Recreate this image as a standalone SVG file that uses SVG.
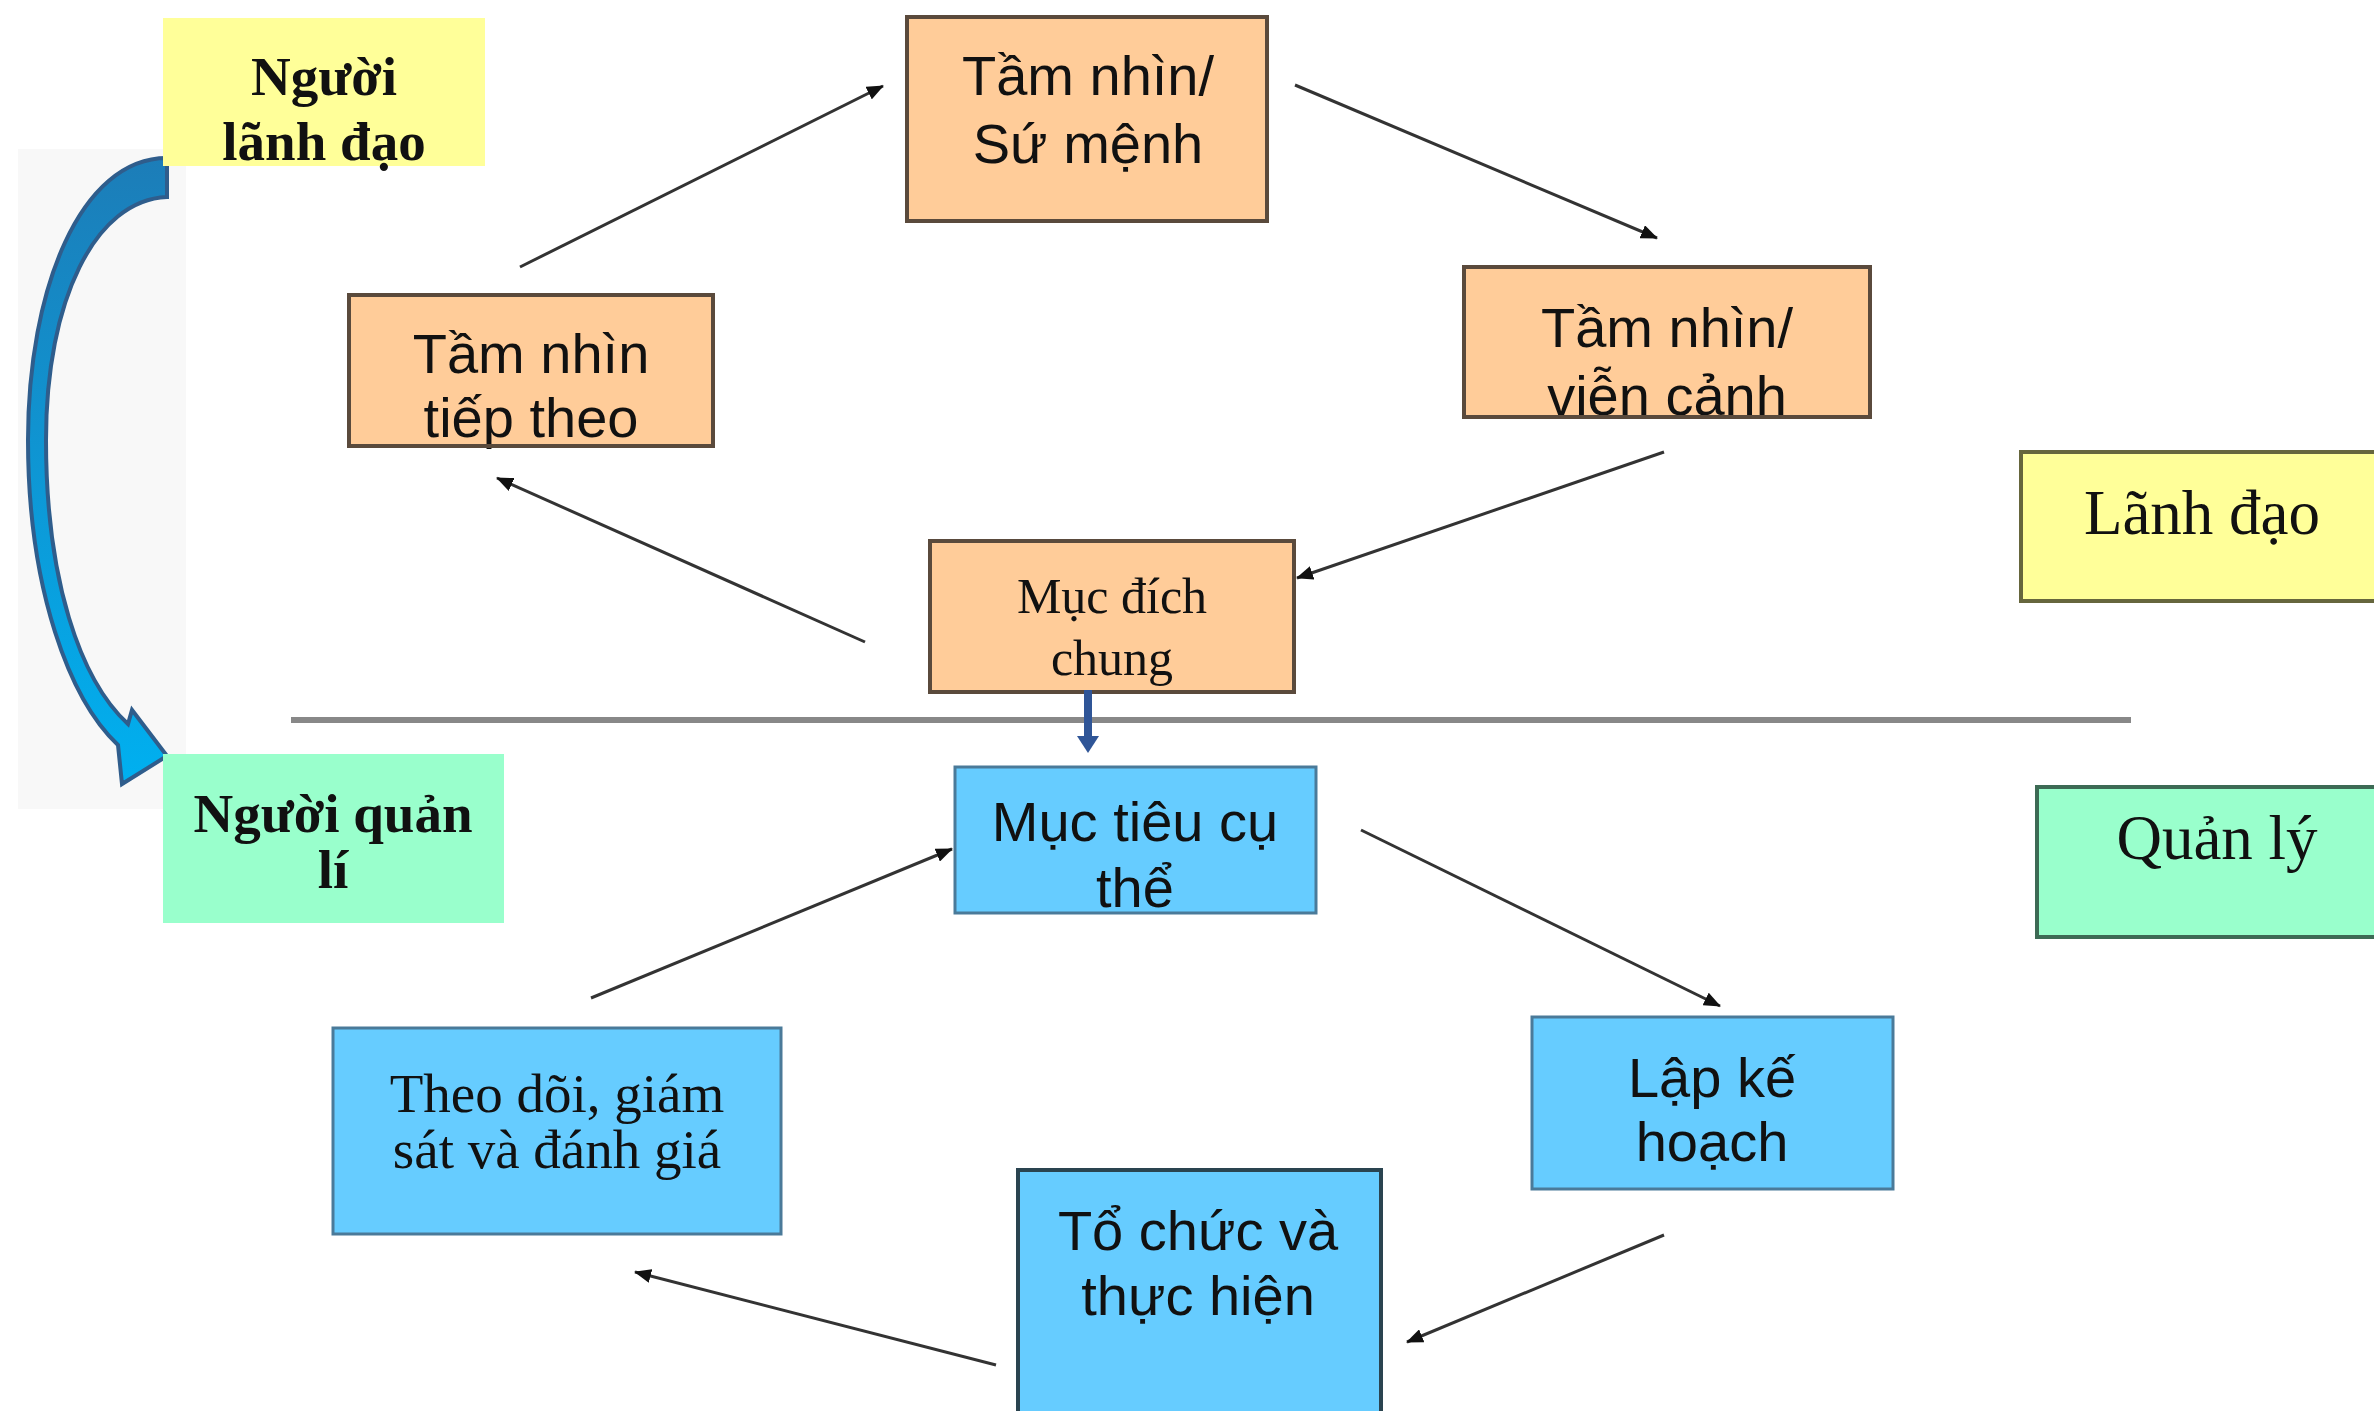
<svg xmlns="http://www.w3.org/2000/svg" width="2374" height="1411" viewBox="0 0 2374 1411">
<defs>
<style>
.sans{font-family:"Liberation Sans",Arial,sans-serif;font-size:56px;fill:#111;text-anchor:middle}
.serif{font-family:"Liberation Serif","Times New Roman",serif;fill:#111;text-anchor:middle}
.bold{font-weight:bold;font-size:55px}
.peach{fill:#FFCC99;stroke:#5a4a3c;stroke-width:4}
.peachfill{fill:#FFCC99}
.peachline{fill:none;stroke:#5a4a3c;stroke-width:4}
.blue{fill:#66CCFF;stroke:#4a7a99;stroke-width:3}
.bluefill{fill:#66CCFF}
.blueline{fill:none;stroke:#4a7a99;stroke-width:3}
.conn{stroke:#333;stroke-width:3;fill:none;marker-end:url(#ah)}
</style>
<marker id="ah" markerUnits="userSpaceOnUse" markerWidth="18" markerHeight="14" refX="16" refY="7" orient="auto">
<path d="M0,0 L17,7 L0,14 z" fill="#111"/>
</marker>
<linearGradient id="bluegrad" x1="0" y1="0" x2="0" y2="1">
<stop offset="0" stop-color="#1C7DB8"/>
<stop offset="1" stop-color="#00B0F0"/>
</linearGradient>
</defs>
<rect width="2374" height="1411" fill="#fff"/>

<g id="curved-arrow">
<rect x="18" y="149" width="168" height="660" fill="#f8f8f8"/>
<path d="M167,158 C80,158 28,290 28,440 C28,590 70,700 118,745 L122,784 L167,756 L132,710 L128,724 C80,680 46,580 46,440 C46,300 95,200 167,197 Z" fill="url(#bluegrad)" stroke="#2F5D8C" stroke-width="4" stroke-linejoin="miter"/>
</g>

<g id="nguoi-lanh-dao">
<rect x="163" y="18" width="322" height="148" fill="#FFFF99"/>
<text class="serif bold" x="324" y="95">Người</text>
<text class="serif bold" x="324" y="160">lãnh đạo</text>
</g>

<g id="nguoi-quan-li">
<rect x="163" y="754" width="341" height="169" fill="#99FFCC"/>
<text class="serif bold" x="333" y="832">Người quản</text>
<text class="serif bold" x="333" y="888">lí</text>
</g>

<g id="tam-nhin-su-menh">
<rect class="peach" x="907" y="17" width="360" height="204"/>
<text class="sans" x="1088" y="95">Tầm nhìn/</text>
<text class="sans" x="1088" y="163">Sứ mệnh</text>
</g>

<g id="tam-nhin-vien-canh">
<rect class="peachfill" x="1464" y="267" width="406" height="150"/>
<text class="sans" x="1667" y="347">Tầm nhìn/</text>
<text class="sans" x="1667" y="415">viễn cảnh</text>
<rect class="peachline" x="1464" y="267" width="406" height="150"/>
</g>

<g id="tam-nhin-tiep-theo">
<rect class="peachfill" x="349" y="295" width="364" height="151"/>
<text class="sans" x="531" y="373">Tầm nhìn</text>
<text class="sans" x="531" y="437">tiếp theo</text>
<rect class="peachline" x="349" y="295" width="364" height="151"/>
</g>

<g id="muc-dich-chung">
<rect class="peach" x="930" y="541" width="364" height="151"/>
<text class="serif" font-size="50" x="1112" y="613">Mục đích</text>
<text class="serif" font-size="50" x="1112" y="675">chung</text>
</g>

<g id="lanh-dao">
<rect x="2021" y="452" width="360" height="149" fill="#FFFF99" stroke="#66663d" stroke-width="4"/>
<text class="serif" font-size="63" x="2202" y="534">Lãnh đạo</text>
</g>

<g id="quan-ly">
<rect x="2037" y="787" width="344" height="150" fill="#99FFCC" stroke="#3d6b55" stroke-width="4"/>
<text class="serif" font-size="63" x="2217" y="859">Quản lý</text>
</g>

<g id="muc-tieu-cu-the">
<rect class="bluefill" x="955" y="767" width="361" height="146"/>
<text class="sans" x="1135" y="841">Mục tiêu cụ</text>
<text class="sans" x="1135" y="907">thể</text>
<rect class="blueline" x="955" y="767" width="361" height="146"/>
</g>

<g id="lap-ke-hoach">
<rect class="blue" x="1532" y="1017" width="361" height="172"/>
<text class="sans" x="1712" y="1097">Lập kế</text>
<text class="sans" x="1712" y="1161">hoạch</text>
</g>

<g id="to-chuc-thuc-hien">
<rect x="1018" y="1170" width="363" height="250" fill="#66CCFF" stroke="#2a4450" stroke-width="4"/>
<text class="sans" x="1198" y="1250">Tổ chức và</text>
<text class="sans" x="1198" y="1315">thực hiện</text>
</g>

<g id="theo-doi">
<rect class="blue" x="333" y="1028" width="448" height="206"/>
<text class="serif" font-size="55" x="557" y="1112">Theo dõi, giám</text>
<text class="serif" font-size="55" x="557" y="1168">sát và đánh giá</text>
</g>

<g id="connectors">
<line x1="291" y1="720" x2="2131" y2="720" stroke="#888" stroke-width="6"/>
<line x1="1088" y1="690" x2="1088" y2="738" stroke="#2F5597" stroke-width="8"/>
<path d="M1077,736 L1099,736 L1088,753 z" fill="#2F5597"/>
<line class="conn" x1="520" y1="267" x2="883" y2="86"/>
<line class="conn" x1="1295" y1="85" x2="1657" y2="238"/>
<line class="conn" x1="1664" y1="452" x2="1297" y2="578"/>
<line class="conn" x1="865" y1="642" x2="497" y2="478"/>
<line class="conn" x1="1361" y1="830" x2="1720" y2="1006"/>
<line class="conn" x1="1664" y1="1235" x2="1407" y2="1342"/>
<line class="conn" x1="996" y1="1365" x2="635" y2="1272"/>
<line class="conn" x1="591" y1="998" x2="952" y2="849"/>
</g>
</svg>
